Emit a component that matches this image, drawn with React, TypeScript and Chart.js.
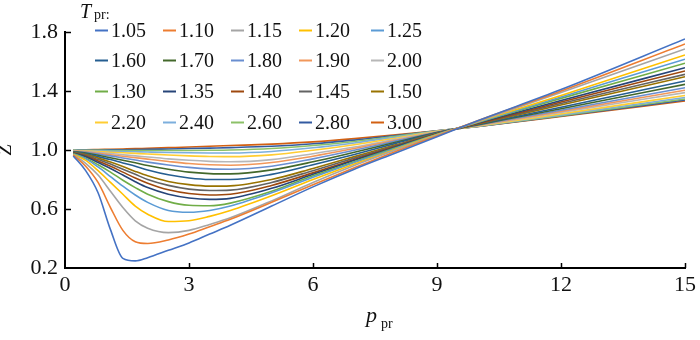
import React, { useEffect, useRef } from "react";
import { Chart, registerables } from "chart.js";

Chart.register(...registerables);

// Pseudo-reduced pressure grid shared by every curve
const PPR = [0.2, 0.5, 0.8, 1.1, 1.4, 1.7, 2.0, 2.5, 3, 3.5, 4, 5, 6, 7, 8, 9, 10, 12, 15];

// Z-factor values, one array per Tpr
const Z_105 = [0.96, 0.86, 0.71, 0.46, 0.265, 0.248, 0.27, 0.32, 0.37, 0.43, 0.49, 0.62, 0.75, 0.87, 0.98, 1.09, 1.2, 1.41, 1.753];
const Z_110 = [0.965, 0.89, 0.78, 0.61, 0.455, 0.378, 0.366, 0.39, 0.43, 0.48, 0.53, 0.645, 0.765, 0.88, 0.99, 1.095, 1.2, 1.4, 1.719];
const Z_115 = [0.968, 0.91, 0.83, 0.72, 0.61, 0.52, 0.47, 0.44, 0.455, 0.495, 0.54, 0.655, 0.78, 0.895, 1.0, 1.1, 1.195, 1.39, 1.685];
const Z_120 = [0.97, 0.93, 0.86, 0.78, 0.7, 0.62, 0.565, 0.515, 0.52, 0.55, 0.59, 0.69, 0.8, 0.905, 1.005, 1.103, 1.193, 1.37, 1.644];
const Z_125 = [0.972, 0.94, 0.885, 0.82, 0.755, 0.695, 0.645, 0.59, 0.578, 0.59, 0.62, 0.71, 0.815, 0.915, 1.01, 1.105, 1.19, 1.36, 1.615];
const Z_130 = [0.975, 0.945, 0.9, 0.85, 0.795, 0.745, 0.7, 0.65, 0.625, 0.622, 0.64, 0.72, 0.825, 0.92, 1.015, 1.107, 1.188, 1.35, 1.588];
const Z_135 = [0.977, 0.955, 0.915, 0.875, 0.83, 0.785, 0.745, 0.7, 0.675, 0.665, 0.672, 0.74, 0.835, 0.93, 1.02, 1.108, 1.185, 1.335, 1.558];
const Z_140 = [0.979, 0.96, 0.925, 0.89, 0.85, 0.81, 0.775, 0.73, 0.705, 0.695, 0.7, 0.76, 0.845, 0.935, 1.025, 1.11, 1.18, 1.325, 1.536];
const Z_145 = [0.981, 0.965, 0.935, 0.905, 0.87, 0.835, 0.8, 0.76, 0.735, 0.725, 0.728, 0.78, 0.86, 0.945, 1.03, 1.112, 1.18, 1.315, 1.513];
const Z_150 = [0.983, 0.97, 0.945, 0.918, 0.888, 0.855, 0.825, 0.787, 0.765, 0.755, 0.757, 0.8, 0.875, 0.955, 1.035, 1.114, 1.178, 1.305, 1.497];
const Z_160 = [0.986, 0.975, 0.955, 0.935, 0.912, 0.89, 0.865, 0.832, 0.81, 0.8, 0.8, 0.835, 0.9, 0.97, 1.045, 1.116, 1.175, 1.29, 1.468];
const Z_170 = [0.988, 0.98, 0.965, 0.948, 0.93, 0.913, 0.895, 0.87, 0.85, 0.84, 0.838, 0.865, 0.92, 0.985, 1.052, 1.118, 1.172, 1.28, 1.445];
const Z_180 = [0.99, 0.984, 0.972, 0.96, 0.946, 0.932, 0.918, 0.898, 0.882, 0.872, 0.87, 0.89, 0.94, 0.998, 1.06, 1.12, 1.17, 1.27, 1.422];
const Z_190 = [0.992, 0.987, 0.978, 0.968, 0.958, 0.948, 0.938, 0.922, 0.908, 0.9, 0.897, 0.915, 0.958, 1.01, 1.066, 1.122, 1.168, 1.262, 1.405];
const Z_200 = [0.994, 0.99, 0.983, 0.976, 0.968, 0.96, 0.953, 0.94, 0.93, 0.923, 0.92, 0.935, 0.975, 1.02, 1.072, 1.124, 1.166, 1.255, 1.389];
const Z_220 = [0.996, 0.993, 0.989, 0.985, 0.981, 0.977, 0.973, 0.966, 0.96, 0.956, 0.955, 0.967, 0.998, 1.036, 1.08, 1.126, 1.163, 1.245, 1.37];
const Z_240 = [0.998, 0.996, 0.994, 0.992, 0.99, 0.988, 0.986, 0.983, 0.981, 0.98, 0.98, 0.99, 1.015, 1.048, 1.087, 1.128, 1.162, 1.238, 1.356];
const Z_260 = [0.999, 0.998, 0.998, 0.997, 0.997, 0.997, 0.997, 0.997, 0.997, 0.998, 1.0, 1.01, 1.03, 1.058, 1.093, 1.129, 1.161, 1.233, 1.346];
const Z_280 = [1.0, 1.0, 1.0, 1.001, 1.002, 1.003, 1.004, 1.007, 1.01, 1.013, 1.016, 1.025, 1.042, 1.067, 1.098, 1.13, 1.16, 1.23, 1.339];
const Z_300 = [1.0, 1.001, 1.003, 1.005, 1.007, 1.009, 1.012, 1.016, 1.02, 1.025, 1.03, 1.04, 1.055, 1.077, 1.103, 1.131, 1.16, 1.227, 1.332];

const TPR_LABELS = ["1.05", "1.10", "1.15", "1.20", "1.25", "1.30", "1.35", "1.40", "1.45", "1.50",
  "1.60", "1.70", "1.80", "1.90", "2.00", "2.20", "2.40", "2.60", "2.80", "3.00"];
const SERIES = [Z_105, Z_110, Z_115, Z_120, Z_125, Z_130, Z_135, Z_140, Z_145, Z_150,
  Z_160, Z_170, Z_180, Z_190, Z_200, Z_220, Z_240, Z_260, Z_280, Z_300];
const COLORS = ["#4472C4", "#ED7D31", "#A5A5A5", "#FFC000", "#5B9BD5", "#70AD47", "#264478", "#9E480E", "#636363", "#997300",
  "#255E91", "#43682B", "#698ED0", "#F1975A", "#B7B7B7", "#FFCD33", "#7CAFDD", "#8CC168", "#335AA1", "#D26012"];

// Legend arrangement (row by row) as in the reference
const LEGEND_ROWS = [
  ["1.05", "1.10", "1.15", "1.20", "1.25"],
  ["1.60", "1.70", "1.80", "1.90", "2.00"],
  ["1.30", "1.35", "1.40", "1.45", "1.50"],
  ["2.20", "2.40", "2.60", "2.80", "3.00"],
];

const X_MIN = 0, X_MAX = 15, X_STEP = 3;
const Y_MIN = 0.2, Y_MAX = 1.8, Y_STEP = 0.4;

const SERIF = "'Liberation Serif', 'Times New Roman', serif";

const decorPlugin = {
  id: "decor",
  afterDraw(chart: any) {
    const ctx = chart.ctx as CanvasRenderingContext2D;
    const { left, bottom } = chart.chartArea;
    const xs = chart.scales.x;
    const ys = chart.scales.y;
    ctx.save();
    // inward ticks
    ctx.strokeStyle = "#000";
    ctx.lineWidth = 1.5;
    xs.ticks.forEach((t: any) => {
      if (t.value === X_MIN) return;
      const px = Math.round(xs.getPixelForValue(t.value)) + 0.5;
      ctx.beginPath();
      ctx.moveTo(px, bottom);
      ctx.lineTo(px, bottom - 5);
      ctx.stroke();
    });
    ys.ticks.forEach((t: any) => {
      if (t.value <= Y_MIN + 1e-9) return;
      const py = Math.round(ys.getPixelForValue(t.value)) + 0.5;
      ctx.beginPath();
      ctx.moveTo(left, py);
      ctx.lineTo(left + 6, py);
      ctx.stroke();
    });

    ctx.fillStyle = "#111";
    // legend title
    ctx.textAlign = "left";
    ctx.textBaseline = "alphabetic";
    ctx.font = `italic 20px ${SERIF}`;
    ctx.fillText("T", 80, 18);
    ctx.font = `14px ${SERIF}`;
    ctx.fillText("pr:", 94, 19);

    // legend entries
    const colX = [95, 163, 231, 299, 371];
    const rowY = [30, 60, 91, 122];
    ctx.font = `20px ${SERIF}`;
    LEGEND_ROWS.forEach((row, r) => {
      row.forEach((lab, c) => {
        const idx = TPR_LABELS.indexOf(lab);
        const x = colX[c];
        const y = rowY[r];
        ctx.strokeStyle = COLORS[idx];
        ctx.lineWidth = 2;
        ctx.beginPath();
        ctx.moveTo(x, y + 0.5);
        ctx.lineTo(x + 13, y + 0.5);
        ctx.stroke();
        ctx.fillStyle = "#111";
        ctx.fillText(lab, x + 16, y + 7);
      });
    });

    // y title
    ctx.save();
    ctx.translate(11, 150);
    ctx.rotate(-Math.PI / 2);
    ctx.textAlign = "center";
    ctx.font = `italic 20px ${SERIF}`;
    ctx.fillText("Z", 0, 0);
    ctx.restore();

    // x title
    ctx.textAlign = "left";
    ctx.font = `italic 22px ${SERIF}`;
    ctx.fillText("p", 366, 322);
    ctx.font = `14px ${SERIF}`;
    ctx.fillText("pr", 381, 328);
    ctx.restore();
  },
};

export default function App() {
  const canvasRef = useRef<HTMLCanvasElement | null>(null);

  useEffect(() => {
    if (!canvasRef.current) return;
    const datasets = SERIES.map((zs, i) => ({
      label: TPR_LABELS[i],
      data: PPR.map((p, j) => ({ x: p, y: zs[j] })),
      borderColor: COLORS[i],
      backgroundColor: COLORS[i],
      borderWidth: 1.6,
      pointRadius: 0,
      fill: false,
      cubicInterpolationMode: "monotone" as const,
    }));

    const chart = new Chart(canvasRef.current, {
      type: "line",
      data: { datasets },
      options: {
        animation: false,
        responsive: false,
        maintainAspectRatio: false,
        layout: { padding: { top: 32, right: 12, left: 0, bottom: 0 } },
        plugins: { legend: { display: false }, tooltip: { enabled: false } },
        scales: {
          x: {
            type: "linear",
            min: X_MIN,
            max: X_MAX,
            ticks: { stepSize: X_STEP, color: "#111", font: { family: SERIF, size: 22 }, padding: 4, maxRotation: 0 },
            grid: { display: true, drawOnChartArea: false, drawTicks: false },
            border: { display: true, color: "#000", width: 2 },
            afterFit: (s: any) => { s.height = 72; },
          },
          y: {
            type: "linear",
            min: Y_MIN,
            max: Y_MAX,
            ticks: {
              stepSize: Y_STEP,
              color: "#111",
              font: { family: SERIF, size: 22 },
              padding: 7,
              callback: (v: any) => Number(v).toFixed(1),
            },
            grid: { display: true, drawOnChartArea: false, drawTicks: false },
            border: { display: true, color: "#000", width: 2 },
            afterFit: (s: any) => { s.width = 65; },
          },
        },
      },
      plugins: [decorPlugin],
    });
    return () => chart.destroy();
  }, []);

  return (
    <div style={{ position: "fixed", left: 0, top: 0, width: 700, height: 340, background: "#fff" }}>
      <canvas ref={canvasRef} width={700} height={340} />
    </div>
  );
}
